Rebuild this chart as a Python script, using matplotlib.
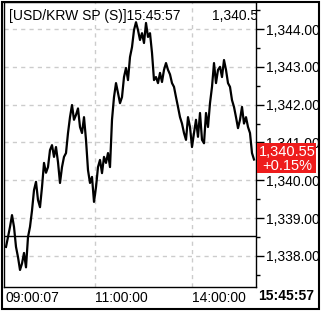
import matplotlib
matplotlib.use('Agg')
import matplotlib.pyplot as plt
from matplotlib.patches import Rectangle

plt.rcParams['font.family'] = ['Liberation Sans', 'DejaVu Sans']

# USD/KRW tick prices (one value per sample)
prices = [
    1338.24, 1338.50, 1338.77, 1339.08, 1338.77, 1338.24, 1337.97, 1337.63, 1337.80, 1338.08,
    1337.70, 1338.50, 1338.77, 1339.20, 1339.74, 1339.96, 1339.48, 1339.29, 1339.82, 1340.46,
    1340.20, 1340.35, 1340.80, 1340.93, 1340.62, 1340.88, 1340.48, 1339.93, 1340.35, 1340.62,
    1340.72, 1341.25, 1341.67, 1341.99, 1341.60, 1341.73, 1341.90, 1341.41, 1341.25, 1341.67,
    1341.07, 1340.27, 1339.93, 1340.09, 1339.43, 1339.82,
    1340.35, 1340.54, 1340.19, 1340.62, 1340.46, 1340.72, 1340.35, 1341.60, 1342.20, 1342.57,
    1342.31, 1342.04, 1342.20, 1342.73, 1342.97, 1342.65, 1343.26, 1343.52, 1343.97, 1344.18,
    1343.97, 1343.71, 1343.89, 1343.63, 1344.16, 1343.79, 1343.89, 1343.37, 1342.65, 1342.73,
    1342.57, 1342.84, 1342.60, 1342.92, 1343.10, 1342.92, 1342.80, 1342.57, 1342.47, 1342.20,
    1341.94, 1341.67, 1341.50, 1341.25, 1341.07, 1341.67, 1341.41, 1340.88,
    1341.25, 1341.60, 1341.15, 1341.78, 1341.07, 1340.98, 1341.78, 1341.41, 1342.04, 1342.47,
    1343.10, 1342.57, 1342.92, 1343.00, 1342.73, 1343.18, 1342.92, 1342.57, 1342.47, 1342.12,
    1341.94, 1341.67, 1341.38, 1341.60, 1341.94, 1341.50, 1341.67, 1341.41, 1341.25, 1340.72,
    1340.55,
]

prev_close = 1338.54
last_price = 1340.55
change_pct = '+0.15%'
last_time = '15:45:57'
title = '[USD/KRW SP (S)]15:45:57'

time_labels = ['09:00:07', '11:00:00', '14:00:00']
time_pos = [0, 44.5, 93]          # sample index where each time falls
grid_times = [44.5, 93]

y_ticks = [1338, 1339, 1340, 1341, 1342, 1343, 1344]
y_minor = [1337.5, 1338.5, 1339.5, 1340.5, 1341.5, 1342.5, 1343.5, 1344.5]

W, H = 322, 313
fig = plt.figure(figsize=(W / 100, H / 100), dpi=100)
fig.patch.set_facecolor('white')

ax = fig.add_axes([4 / W, (H - 287) / H, (256 - 4) / W, (287 - 2) / H])
ax.set_xlim(-1, 125)
ax.set_ylim(1337.18, 1344.714)

# grid
for v in y_ticks:
    ax.axhline(v, color='#cccccc', lw=1, ls=(0, (3, 3)), zorder=1)
for t in grid_times:
    ax.axvline(t, color='#cccccc', lw=1, ls=(0, (3, 3)), zorder=1)

ax.axhline(prev_close, color='black', lw=1, zorder=2)
ax.plot(range(len(prices)), prices, color='black', lw=1.6, zorder=3)

# right price axis
ax.yaxis.tick_right()
ax.set_yticks(y_ticks)
ax.set_yticklabels([f'{v:,.2f}' for v in y_ticks])
ax.set_yticks(y_minor, minor=True)
ax.tick_params(axis='y', which='major', length=6, width=1, pad=1, labelsize=10, colors='black')
ax.tick_params(axis='y', which='minor', length=3, width=1)

# time axis
ax.set_xticks(time_pos)
ax.set_xticklabels(time_labels, ha='left')
ax.tick_params(axis='x', length=0, pad=3, labelsize=10)
ax.set_xticks([], minor=True)

for s in ax.spines.values():
    s.set_linewidth(1)
    s.set_color('black')

ax.text((9 - 4) / 252, 1 - (16 - 2) / 285, title, transform=ax.transAxes,
        fontsize=10, va='center', ha='left', clip_on=True)
ax.text((212 - 4) / 252, 1 - (16 - 2) / 285, f'{last_price:,.2f}', transform=ax.transAxes,
        fontsize=10, va='center', ha='left', clip_on=True)

# last price box (sits over the 1,341.00 label like in the original)
fig.patches.append(Rectangle((257 / W, 1 - 173 / H), 59 / W, 30 / H, transform=fig.transFigure,
                             facecolor='#ee1c1c', edgecolor='none', zorder=5))
fig.text(287 / W, 1 - 152 / H, f'{last_price:,.2f}', color='white', fontsize=10.5,
         ha='center', va='center', zorder=6)
fig.text(287 / W, 1 - 166 / H, change_pct, color='white', fontsize=10.5,
         ha='center', va='center', zorder=6)

fig.text(258 / W, 1 - 296 / H, last_time, fontsize=10, fontweight='bold',
         ha='left', va='center', zorder=6)

# outer frame
fig.patches.append(Rectangle((2 / W, (H - 309) / H), 317 / W, 307 / H, transform=fig.transFigure,
                             fill=False, edgecolor='black', lw=1.5, zorder=10))

fig.savefig('out.png', dpi=100)
